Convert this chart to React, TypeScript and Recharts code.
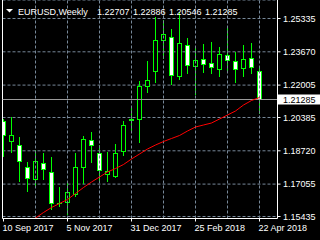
import React from 'react';
import { ComposedChart, Bar, Line, XAxis, YAxis, CartesianGrid, ReferenceLine } from 'recharts';

const FONT = '"Liberation Sans", Arial, sans-serif';

const opens = [1.20165, 1.19165, 1.19, 1.17885, 1.17285, 1.18085, 1.1765, 1.161, 1.16135, 1.1655, 1.17885, 1.1925, 1.18585, 1.17535, 1.1745, 1.18665, 1.2025, 1.20285, 1.2195, 1.22665, 1.24215, 1.24385, 1.2245, 1.23985, 1.2295, 1.23285, 1.231, 1.22785, 1.23485, 1.23185, 1.22835, 1.23335, 1.22707];
const highs = [1.20335, 1.20385, 1.19415, 1.18165, 1.1875, 1.18585, 1.18415, 1.16915, 1.17165, 1.18585, 1.1945, 1.19665, 1.19, 1.1865, 1.1905, 1.20215, 1.2095, 1.22215, 1.232, 1.254, 1.2525, 1.248, 1.25665, 1.24385, 1.2385, 1.2405, 1.24165, 1.23885, 1.24835, 1.23665, 1.24, 1.24135, 1.22886];
const lows = [1.184, 1.18615, 1.17165, 1.16665, 1.169, 1.1725, 1.1575, 1.15915, 1.155, 1.16415, 1.17085, 1.18115, 1.17165, 1.17165, 1.17385, 1.1845, 1.19715, 1.19115, 1.21615, 1.22115, 1.23285, 1.22, 1.22285, 1.2255, 1.215, 1.22615, 1.2255, 1.22385, 1.22715, 1.22115, 1.22385, 1.2255, 1.20546];
const closes = [1.195, 1.195, 1.18165, 1.17335, 1.182, 1.17785, 1.16085, 1.1607, 1.16635, 1.17885, 1.19285, 1.19, 1.1775, 1.17665, 1.18585, 1.2, 1.203, 1.2195, 1.22215, 1.2425, 1.2455, 1.225, 1.24085, 1.22985, 1.2325, 1.2305, 1.22885, 1.2355, 1.23215, 1.22785, 1.23285, 1.22885, 1.21285];
const maValues = [null, null, null, 1.1511, 1.1536, 1.15635, 1.15885, 1.16085, 1.16285, 1.16585, 1.16885, 1.1716, 1.1741, 1.1766, 1.17835, 1.18035, 1.1831, 1.1856, 1.1881, 1.1901, 1.19185, 1.19335, 1.19485, 1.1971, 1.1991, 1.2001, 1.2011, 1.2031, 1.2051, 1.2071, 1.2101, 1.21235, 1.21385];

const dateTicks = [0, 8, 16, 24, 32];
const dateLabels = ['10 Sep 2017', '5 Nov 2017', '31 Dec 2017', '25 Feb 2018', '22 Apr 2018'];
const gridWeeks = [4, 8, 12, 16, 20, 24, 28, 32];
const priceTicks = [1.15435, 1.17055, 1.1872, 1.20385, 1.22005, 1.2367, 1.25335];
const lastPrice = 1.21285;
const symbolTitle = 'EURUSD,Weekly';
const headerValues = ['1.22707', '1.22886', '1.20546', '1.21285'];

const rows = opens.map((o, i) => ({
  i,
  open: o,
  high: highs[i],
  low: lows[i],
  close: closes[i],
  ma: maValues[i],
}));

const GREEN = '#00ff00';
const GRID = '#778899';

const snap = (v: number) => Math.round(v - 0.5) + 0.5;

const Candle = (props: any) => {
  const { x, y, width, height, payload } = props;
  if (x == null || y == null || !payload) return null;
  const { open, close, high, low } = payload;
  const top0 = Math.min(y, y + height);
  const h = Math.abs(height);
  const cx = snap(x + width / 2);
  const k = h / (high - low);
  const py = (p: number) => top0 + (high - p) * k;
  const yH = Math.round(py(high));
  const yL = Math.round(py(low));
  const yO = snap(py(open));
  const yC = snap(py(close));
  const top = Math.min(yO, yC);
  const bot = Math.max(yO, yC);
  const bull = close > open;
  return (
    <g>
      <line x1={cx} x2={cx} y1={yH} y2={yL} stroke={GREEN} strokeWidth={1} />
      {bot - top < 1 ? (
        <line x1={cx - 2.5} x2={cx + 2.5} y1={top} y2={top} stroke={GREEN} strokeWidth={1} />
      ) : (
        <rect x={cx - 2} y={top} width={4} height={bot - top} fill={bull ? '#000' : '#fff'} stroke={GREEN} strokeWidth={1} />
      )}
    </g>
  );
};

const XTick = (props: any) => {
  const { x, payload } = props;
  const idx = dateTicks.indexOf(payload.value);
  return (
    <text x={x - 1} y={231} fill="#fff" fontSize={9} fontFamily={FONT} textAnchor="start">
      {dateLabels[idx]}
    </text>
  );
};

const YTick = (props: any) => {
  const { y, payload } = props;
  return (
    <text x={283} y={y + 3.3} fill="#fff" fontSize={9} fontFamily={FONT} textAnchor="start">
      {Number(payload.value).toFixed(5)}
    </text>
  );
};

const PriceBox = (props: any) => {
  const vb = props.viewBox || {};
  const yy = vb.y;
  return (
    <g>
      <rect x={278} y={yy - 5} width={42} height={10} fill="#fff" />
      <text x={283} y={yy + 3.3} fill="#000" fontSize={9} fontFamily={FONT} textAnchor="start">
        {lastPrice.toFixed(5)}
      </text>
    </g>
  );
};

export default function App() {
  return (
    <div style={{ position: 'fixed', left: 0, top: 0, width: 320, height: 240, background: '#000', overflow: 'hidden' }}>
      <ComposedChart width={320} height={240} data={rows} margin={{ top: 0, right: 0, bottom: 0, left: 2.5 }}>
        <CartesianGrid vertical={false} stroke={GRID} strokeDasharray="3 2" />
        {gridWeeks.map((w) => (
          <ReferenceLine key={w} x={w} stroke={GRID} strokeDasharray="3 2" />
        ))}
        <XAxis
          dataKey="i"
          type="number"
          domain={[-0.125, 34.25]}
          allowDataOverflow
          ticks={dateTicks}
          height={21.5}
          axisLine={{ stroke: '#fff' }}
          tickLine={{ stroke: '#fff' }}
          tickSize={3}
          tick={<XTick />}
          interval={0}
        />
        <YAxis
          orientation="right"
          type="number"
          domain={[1.15335, 1.2626]}
          allowDataOverflow
          ticks={priceTicks}
          width={42.5}
          axisLine={{ stroke: '#fff' }}
          tickLine={{ stroke: '#fff' }}
          tickSize={3}
          tick={<YTick />}
          interval={0}
        />
        <ReferenceLine x={-0.125} stroke="#fff" />
        <ReferenceLine y={lastPrice} stroke="#9a9a9a" label={<PriceBox />} />
        <Bar dataKey={(d: any) => [d.low, d.high]} barSize={5} shape={<Candle />} isAnimationActive={false} />
        <Line dataKey="ma" stroke="#ff0000" strokeWidth={1} dot={false} isAnimationActive={false} connectNulls={false} />
      </ComposedChart>
      <svg width={320} height={20} style={{ position: 'absolute', left: 0, top: 0 }}>
        <polygon points="6,9 13,9 9.5,12.5" fill="#fff" />
        <text x={18} y={14.7} fill="#fff" fontSize={9} fontFamily={FONT}>{symbolTitle}</text>
        {headerValues.map((v, k) => (
          <text key={k} x={97 + 36 * k} y={14.7} fill="#fff" fontSize={9} fontFamily={FONT}>{v}</text>
        ))}
      </svg>
    </div>
  );
}
